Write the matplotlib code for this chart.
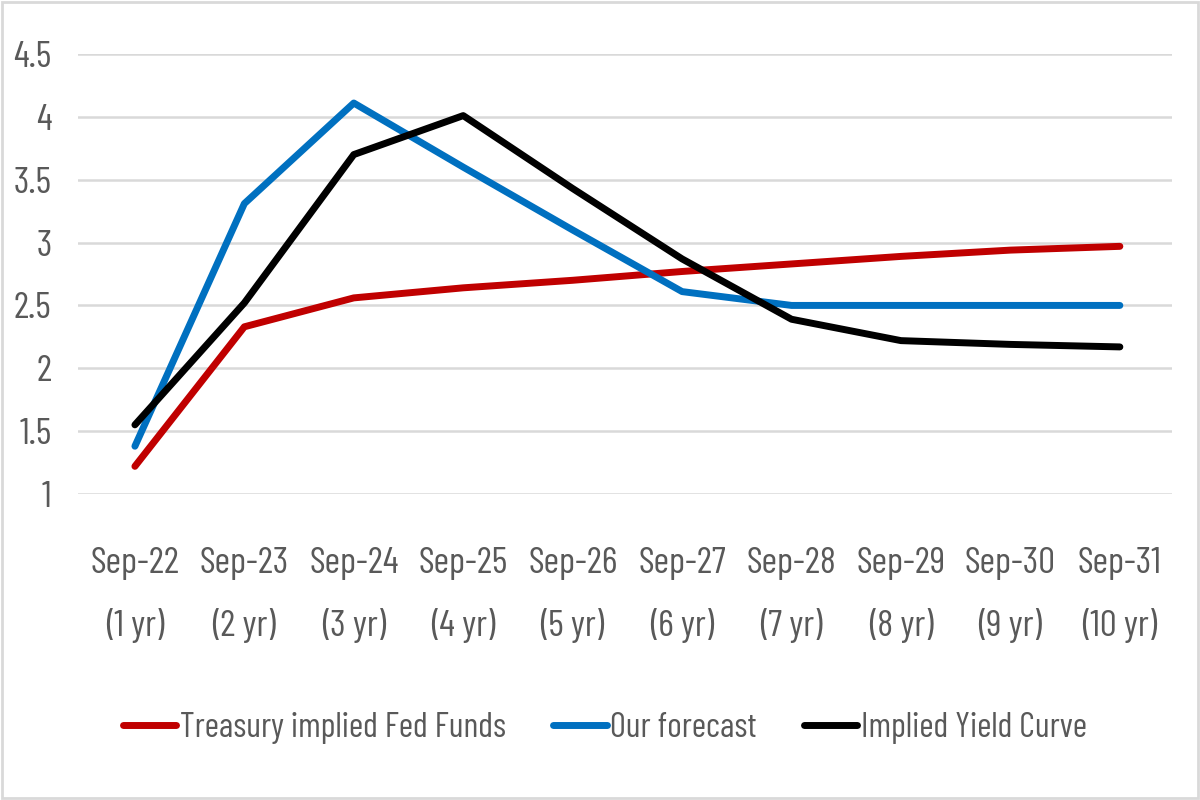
import matplotlib.pyplot as plt
from matplotlib.patches import Rectangle

plt.rcParams['font.family'] = ['Barlow Condensed', 'Carlito', 'DejaVu Sans']

categorias = ['Sep-22\n(1 yr)', 'Sep-23\n(2 yr)', 'Sep-24\n(3 yr)', 'Sep-25\n(4 yr)', 'Sep-26\n(5 yr)',
              'Sep-27\n(6 yr)', 'Sep-28\n(7 yr)', 'Sep-29\n(8 yr)', 'Sep-30\n(9 yr)', 'Sep-31\n(10 yr)']

fed_funds = [1.22, 2.33, 2.56, 2.64, 2.70, 2.77, 2.83, 2.89, 2.94, 2.97]
forecast = [1.38, 3.31, 4.11, 3.60, 3.10, 2.61, 2.50, 2.50, 2.50, 2.50]
yield_curve = [1.55, 2.52, 3.70, 4.01, 3.43, 2.87, 2.39, 2.22, 2.19, 2.17]

cinza = '#595959'

fig = plt.figure(figsize=(12, 8), dpi=100)
ax = fig.add_axes([0.065, 0.3825, 0.912, 0.55])

x = range(len(categorias))
ax.plot(x, fed_funds, color='#C00000', lw=5, label='Treasury implied Fed Funds', solid_capstyle='round')
ax.plot(x, forecast, color='#0070C0', lw=5, label='Our forecast', solid_capstyle='round')
ax.plot(x, yield_curve, color='#000000', lw=5, label='Implied Yield Curve', solid_capstyle='round')

ax.set_xlim(-0.52, 9.48)
ax.set_ylim(1, 4.5)
ax.set_yticks([1, 1.5, 2, 2.5, 3, 3.5, 4, 4.5])
ax.set_yticklabels(['1', '1.5', '2', '2.5', '3', '3.5', '4', '4.5'])
ax.set_xticks(list(x))
ax.set_xticklabels(categorias, linespacing=2.0)
ax.tick_params(axis='both', length=0, labelsize=27, colors=cinza)
ax.tick_params(axis='y', pad=19)
ax.tick_params(axis='x', pad=38)
ax.grid(axis='y', color='#d9d9d9', lw=1.8)
ax.set_axisbelow(True)
for s in ax.spines.values():
    s.set_visible(False)

leg = fig.legend(loc='center', bbox_to_anchor=(0.504, 0.09), ncol=3, frameon=False,
                 fontsize=25, handlelength=1.55, handletextpad=0.1, columnspacing=1.35)
for t in leg.get_texts():
    t.set_color(cinza)

fig.patches.append(Rectangle((0.002, 0.003), 0.996, 0.994, transform=fig.transFigure,
                             fill=False, edgecolor='#d9d9d9', lw=2))

plt.savefig('out.png', dpi=100)
